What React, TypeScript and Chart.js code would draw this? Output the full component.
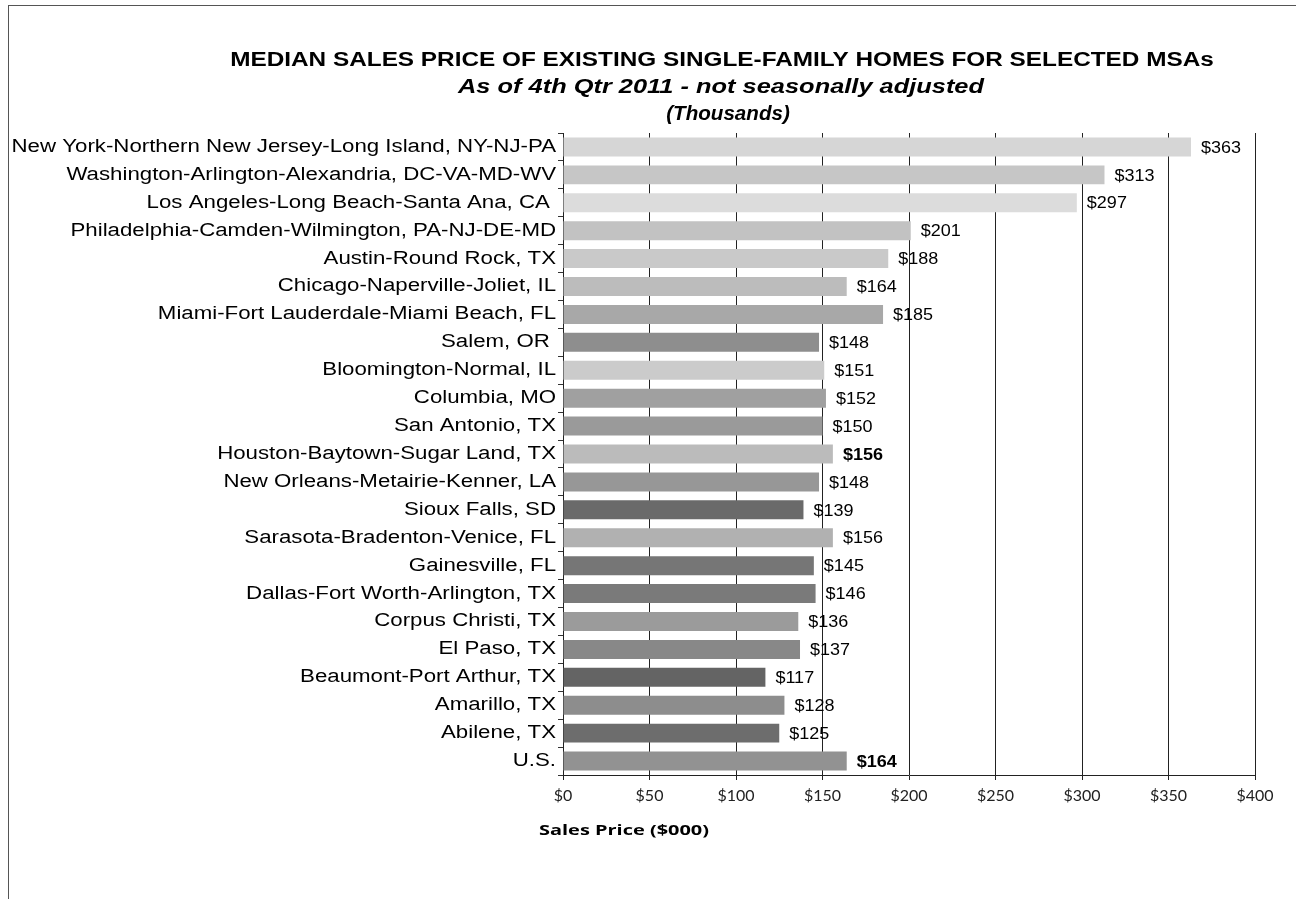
import React, { useEffect, useRef } from "react";
import { Chart, registerables } from "chart.js";

Chart.register(...registerables);

const categories = [
  "New York-Northern New Jersey-Long Island, NY-NJ-PA",
  "Washington-Arlington-Alexandria, DC-VA-MD-WV",
  "Los Angeles-Long Beach-Santa Ana, CA ",
  "Philadelphia-Camden-Wilmington, PA-NJ-DE-MD",
  "Austin-Round Rock, TX",
  "Chicago-Naperville-Joliet, IL",
  "Miami-Fort Lauderdale-Miami Beach, FL",
  "Salem, OR ",
  "Bloomington-Normal, IL",
  "Columbia, MO",
  "San Antonio, TX",
  "Houston-Baytown-Sugar Land, TX",
  "New Orleans-Metairie-Kenner, LA",
  "Sioux Falls, SD",
  "Sarasota-Bradenton-Venice, FL",
  "Gainesville, FL",
  "Dallas-Fort Worth-Arlington, TX",
  "Corpus Christi, TX",
  "El Paso, TX",
  "Beaumont-Port Arthur, TX",
  "Amarillo, TX",
  "Abilene, TX",
  "U.S.",
];

const prices = [363, 313, 297, 201, 188, 164, 185, 148, 151, 152, 150, 156, 148, 139, 156, 145, 146, 136, 137, 117, 128, 125, 164];

const emphasized = ["Houston-Baytown-Sugar Land, TX", "U.S."];

const xTickValues = [0, 50, 100, 150, 200, 250, 300, 350, 400];

const titleText = "MEDIAN SALES PRICE OF EXISTING SINGLE-FAMILY HOMES FOR SELECTED MSAs";
const subtitleLines = ["As of 4th Qtr 2011 - not seasonally adjusted", "(Thousands)"];
const xAxisTitle = "Sales Price ($000)";

const barColors = [
  "#d6d6d6", "#c6c6c6", "#dcdcdc", "#c2c2c2", "#c9c9c9", "#bcbcbc", "#a8a8a8",
  "#8e8e8e", "#cbcbcb", "#a0a0a0", "#9a9a9a", "#bbbbbb", "#979797", "#6a6a6a",
  "#b1b1b1", "#767676", "#7a7a7a", "#9b9b9b", "#888888", "#646464", "#8d8d8d",
  "#6d6d6d", "#929292",
];

const ARIAL = "'Liberation Sans', Arial, sans-serif";

function stretchedText(ctx: CanvasRenderingContext2D, text: string, x: number, y: number, sx: number) {
  ctx.save();
  ctx.translate(x, y);
  ctx.scale(sx, 1);
  ctx.fillText(text, 0, 0);
  ctx.restore();
}

export default function App() {
  const canvasRef = useRef<HTMLCanvasElement | null>(null);

  useEffect(() => {
    const canvas = canvasRef.current;
    if (!canvas) return;

    const valueLabels = {
      id: "valueLabels",
      afterDatasetsDraw(chart: any) {
        const ctx = chart.ctx;
        const meta = chart.getDatasetMeta(0);
        ctx.save();
        ctx.fillStyle = "#000";
        ctx.textBaseline = "middle";
        ctx.textAlign = "left";
        meta.data.forEach((bar: any, i: number) => {
          const bold = emphasized.includes(categories[i]);
          ctx.font = `${bold ? "bold " : ""}17px ${ARIAL}`;
          stretchedText(ctx, "$" + prices[i], bar.x + 10, bar.y + 1, 1.06);
        });
        ctx.restore();
      },
    };

    const categoryLabels = {
      id: "categoryLabels",
      afterDraw(chart: any) {
        const ctx = chart.ctx;
        const yScale = chart.scales.y;
        ctx.save();
        ctx.fillStyle = "#000";
        ctx.textBaseline = "middle";
        ctx.textAlign = "right";
        ctx.font = `18px ${ARIAL}`;
        categories.forEach((c, i) => {
          const y = yScale.getPixelForTick(i);
          stretchedText(ctx, c, chart.chartArea.left - 7, y, 1.236);
        });
        ctx.restore();
      },
    };

    const titles = {
      id: "titles",
      afterDraw(chart: any) {
        const ctx = chart.ctx;
        ctx.save();
        ctx.fillStyle = "#000";
        ctx.textAlign = "center";
        ctx.textBaseline = "middle";
        ctx.font = `bold 20px ${ARIAL}`;
        stretchedText(ctx, titleText, 722, 60, 1.217);
        ctx.font = `italic bold 20px ${ARIAL}`;
        stretchedText(ctx, subtitleLines[0], 721, 87, 1.27);
        stretchedText(ctx, subtitleLines[1], 728, 114, 1.03);
        ctx.font = `bold 15px 'Open Sans', sans-serif`;
        stretchedText(ctx, xAxisTitle, 624, 831, 1.33);
        ctx.restore();
      },
    };

    const chart = new Chart(canvas, {
      type: "bar",
      data: {
        labels: categories,
        datasets: [
          {
            data: prices,
            backgroundColor: barColors,
            borderWidth: 0,
            barPercentage: 0.68,
            categoryPercentage: 1,
          },
        ],
      },
      options: {
        indexAxis: "y",
        responsive: false,
        animation: false,
        layout: { padding: { left: 0, right: 41, top: 133, bottom: 0 } },
        plugins: {
          legend: { display: false },
          tooltip: { enabled: false },
          title: { display: false },
        },
        scales: {
          x: {
            min: 0,
            max: 400,
            afterBuildTicks: (scale: any) => {
              scale.ticks = xTickValues.map((v) => ({ value: v }));
            },
            ticks: {
              callback: (v: any) => "$" + v,
              color: "#222",
              font: { family: "Lato, 'Open Sans', sans-serif", size: 16 },
              padding: 6,
              maxRotation: 0,
            },
            grid: {
              color: "#222",
              lineWidth: 1,
              tickLength: 5,
              drawTicks: true,
            },
            border: { color: "#222", width: 1 },
            afterFit: (scale: any) => {
              scale.height = 124;
            },
          },
          y: {
            grid: {
              drawOnChartArea: false,
              drawTicks: true,
              tickLength: 5,
              color: "#333",
              offset: true,
            },
            border: { color: "#222", width: 1 },
            ticks: {
              display: false,
              autoSkip: false,
            },
            afterFit: (scale: any) => {
              scale.width = 563;
            },
          },
        },
      },
      plugins: [valueLabels, categoryLabels, titles],
    });

    return () => {
      chart.destroy();
    };
  }, []);

  return (
    <div style={{ position: "absolute", left: 0, top: 0, width: 1296, height: 899, background: "#fff", overflow: "hidden" }}>
      <div
        style={{
          position: "absolute",
          left: 8,
          top: 5,
          width: 1290,
          height: 900,
          borderTop: "1px solid #555",
          borderLeft: "1px solid #555",
        }}
      />
      <canvas ref={canvasRef} width={1296} height={899} style={{ position: "absolute", left: 0, top: 0 }} />
    </div>
  );
}
